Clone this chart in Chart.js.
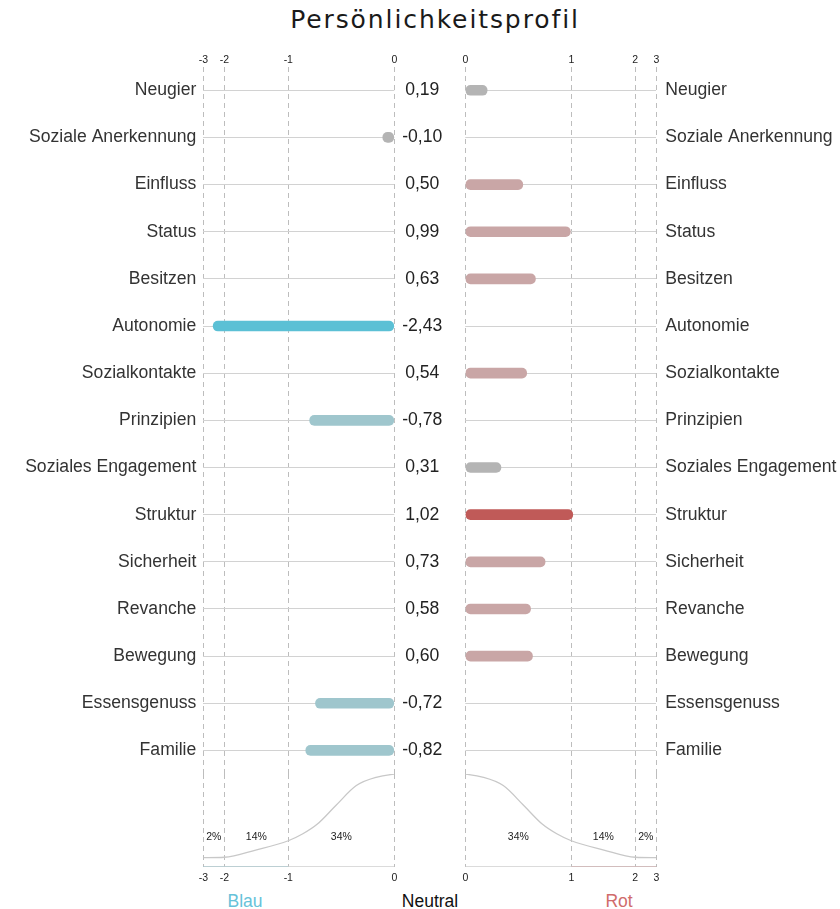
<!DOCTYPE html>
<html>
<head>
<meta charset="utf-8">
<title>Persönlichkeitsprofil</title>
<script src="https://cdn.jsdelivr.net/npm/chart.js@4.4.1/dist/chart.umd.min.js"></script>
<style>
  body { margin: 0; background: #fff; width: 840px; height: 909px; position: relative; overflow: hidden;
         font-family: "Liberation Sans", Arial, sans-serif; }
  canvas { position: absolute; }
  .txt { position: absolute; transform: translateX(-50%); white-space: nowrap; line-height: 20px; font-size: 17.5px; }
</style>
</head>
<body>
<div class="txt" style="left:435px; top:5px; font-family:'DejaVu Sans'; font-size:25px; line-height:30px; letter-spacing:1.9px; color:#1a1a1a;">Persönlichkeitsprofil</div>

<canvas id="leftRows" width="400" height="724" style="left:0; top:50px;"></canvas>
<canvas id="rightRows" width="440" height="724" style="left:400px; top:50px;"></canvas>
<canvas id="leftCurve" width="400" height="114" style="left:0; top:774px;"></canvas>
<canvas id="rightCurve" width="440" height="114" style="left:400px; top:774px;"></canvas>

<div class="txt" style="left:245px; top:891px; color:#66c2d9;">Blau</div>
<div class="txt" style="left:430px; top:891px; color:#111;">Neutral</div>
<div class="txt" style="left:619px; top:891px; color:#d06b6b;">Rot</div>

<script>
// values
var traits = ['Neugier', 'Soziale Anerkennung', 'Einfluss', 'Status', 'Besitzen', 'Autonomie',
  'Sozialkontakte', 'Prinzipien', 'Soziales Engagement', 'Struktur', 'Sicherheit', 'Revanche',
  'Bewegung', 'Essensgenuss', 'Familie'];
var scores = [0.19, -0.10, 0.50, 0.99, 0.63, -2.43, 0.54, -0.78, 0.31, 1.02, 0.73, 0.58, 0.60, -0.72, -0.82];

// bell curve under the rows (distance from neutral, relative height)
var curveDist = [0, 0.14, 0.33, 0.51, 0.70, 0.85, 1, 1.44, 2, 3];
var curveHeight = [1.0, 0.97, 0.875, 0.66, 0.46, 0.355, 0.28, 0.18, 0.102, 0.097];

var leftBands = [-3, -2, -1, 0];
var leftBandLabels = ['2%', '14%', '34%'];
var rightBands = [0, 1, 2, 3];
var rightBandLabels = ['34%', '14%', '2%'];
var blueRange = [-3, -1];
var redRange = [1, 3];

var warpStops = [0, 0.5, 1, 1.5, 2, 2.5, 3];
var warpPos = [0, 0.301, 0.555, 0.749, 0.89, 0.958, 1];

function warp(v) {
  var a = Math.abs(v), s = v < 0 ? -1 : 1;
  for (var i = 1; i < warpStops.length; i++) {
    if (a <= warpStops[i]) {
      var f = (a - warpStops[i - 1]) / (warpStops[i] - warpStops[i - 1]);
      return s * (warpPos[i - 1] + f * (warpPos[i] - warpPos[i - 1]));
    }
  }
  return s;
}
function unwarp(w) {
  var a = Math.abs(w), s = w < 0 ? -1 : 1;
  for (var i = 1; i < warpPos.length; i++) {
    if (a <= warpPos[i]) {
      var f = (a - warpPos[i - 1]) / (warpPos[i] - warpPos[i - 1]);
      return s * (warpStops[i - 1] + f * (warpStops[i] - warpStops[i - 1]));
    }
  }
  return s * 3;
}

class ProfileScale extends Chart.LinearScale {
  getPixelForValue(value) {
    if (value === null || value === undefined) return NaN;
    var lo = warp(this.min), hi = warp(this.max);
    return this.getPixelForDecimal((warp(value) - lo) / (hi - lo));
  }
  getValueForPixel(pixel) {
    var lo = warp(this.min), hi = warp(this.max);
    return unwarp(lo + this.getDecimalForPixel(pixel) * (hi - lo));
  }
}
ProfileScale.id = 'profile';
ProfileScale.defaults = {};
Chart.register(ProfileScale);

Chart.defaults.font.family = '"Liberation Sans", Arial, sans-serif';
Chart.defaults.animation = false;

function colorFor(v) {
  var a = Math.abs(v);
  if (a < 0.35) return '#b4b4b4';
  if (v < 0) return a > 1 ? '#5bc0d5' : '#9fc6cd';
  return a > 1 ? '#c05a58' : '#c9a6a6';
}

function fmt(v) { return v.toFixed(2).replace('.', ','); }

// fixed axis sizes, no extra padding for overflowing labels
function fixSize(w, h) {
  return function (s) {
    if (w !== null) s.width = w;
    if (h !== null) s.height = h;
    s.paddingTop = 0; s.paddingBottom = 0; s.paddingLeft = 0; s.paddingRight = 0;
  };
}

var gridX = { drawTicks: false, color: '#bdbdbd', lineWidth: 1 };
var borderX = { display: false, dash: [5, 4] };
var tickX = { stepSize: 1, padding: 0, color: '#222', font: { size: 10.5 } };

function rowsChart(id, min, max, positive, yScales, pad) {
  return new Chart(document.getElementById(id), {
    type: 'bar',
    data: {
      labels: traits,
      datasets: [{
        data: scores.map(function (v) { return (positive ? v > 0 : v < 0) ? [0, v] : null; }),
        backgroundColor: scores.map(colorFor),
        barThickness: 10,
        borderRadius: 5,
        borderSkipped: false
      }]
    },
    options: {
      indexAxis: 'y',
      responsive: false,
      layout: { padding: pad },
      plugins: { legend: { display: false }, tooltip: { enabled: false } },
      scales: Object.assign({
        x: {
          type: 'profile', position: 'top', min: min, max: max,
          ticks: tickX, grid: gridX, border: borderX,
          afterFit: fixSize(null, 16.7)
        }
      }, yScales)
    }
  });
}

rowsChart('leftRows', -3, 0, false, {
  y: {
    offset: true,
    grid: { offset: false, color: '#d2d2d2', drawTicks: false },
    border: { display: false },
    ticks: { padding: 7, autoSkip: false, color: '#333', font: { size: 17.6 } },
    afterFit: fixSize(203.3, null)
  }
}, { top: 0, bottom: 0, left: 0, right: 5.7 });

rowsChart('rightRows', 0, 3, true, {
  y: {
    position: 'right', offset: true,
    grid: { offset: false, color: '#d2d2d2', drawTicks: false },
    border: { display: false },
    ticks: { padding: 9, autoSkip: false, color: '#333', font: { size: 17.6 } },
    afterFit: fixSize(183.7, null)
  },
  yv: {
    type: 'category', position: 'left', offset: true,
    labels: scores.map(fmt),
    grid: { display: false }, border: { display: false },
    ticks: { padding: 15, crossAlign: 'center', autoSkip: false, color: '#222', font: { size: 17.6 } },
    afterFit: fixSize(65.3, null)
  }
}, { top: 0, bottom: 0, left: 0, right: 0 });

function bandPlugin(edges, labels) {
  return {
    id: 'bandLabels',
    afterDatasetsDraw: function (chart) {
      var ctx = chart.ctx, x = chart.scales.x, y = chart.scales.y;
      ctx.save();
      ctx.font = '10.5px "Liberation Sans", Arial, sans-serif';
      ctx.fillStyle = '#222';
      ctx.textAlign = 'center';
      ctx.textBaseline = 'middle';
      labels.forEach(function (t, i) {
        var a = x.getPixelForValue(edges[i]), b = x.getPixelForValue(edges[i + 1]);
        ctx.fillText(t, (a + b) / 2, y.getPixelForValue(0.324));
      });
      ctx.restore();
    }
  };
}

function curveChart(id, sign, edges, labels, range, rangeColor, pad) {
  var pts = curveDist.map(function (d, i) { return { x: sign * d, y: curveHeight[i] }; });
  pts.sort(function (a, b) { return a.x - b.x; });
  return new Chart(document.getElementById(id), {
    type: 'line',
    data: {
      datasets: [
        { data: pts, borderColor: '#c8c8c8', borderWidth: 1.3, pointRadius: 0, cubicInterpolationMode: 'monotone' },
        { data: [{ x: edges[0], y: 0 }, { x: edges[edges.length - 1], y: 0 }], borderColor: '#cfcfcf', borderWidth: 1.3, pointRadius: 0 },
        { data: [{ x: range[0], y: 0 }, { x: range[1], y: 0 }], borderColor: rangeColor, borderWidth: 1.5, pointRadius: 0 }
      ]
    },
    options: {
      responsive: false,
      layout: { padding: pad },
      plugins: { legend: { display: false }, tooltip: { enabled: false } },
      scales: {
        x: {
          type: 'profile', position: 'bottom', min: edges[0], max: edges[edges.length - 1],
          ticks: { stepSize: 1, padding: 5.5, color: '#222', font: { size: 10.5 } },
          grid: gridX, border: borderX,
          afterFit: fixSize(null, 21.3)
        },
        y: { type: 'linear', min: 0, max: 1, display: false }
      }
    },
    plugins: [bandPlugin(edges, labels)]
  });
}

curveChart('leftCurve', -1, leftBands, leftBandLabels, blueRange, '#5bc0d5', { top: 0, bottom: 0, left: 203.3, right: 5.7 });
curveChart('rightCurve', 1, rightBands, rightBandLabels, redRange, '#d06060', { top: 0, bottom: 0, left: 65.3, right: 183.7 });
</script>
</body>
</html>
